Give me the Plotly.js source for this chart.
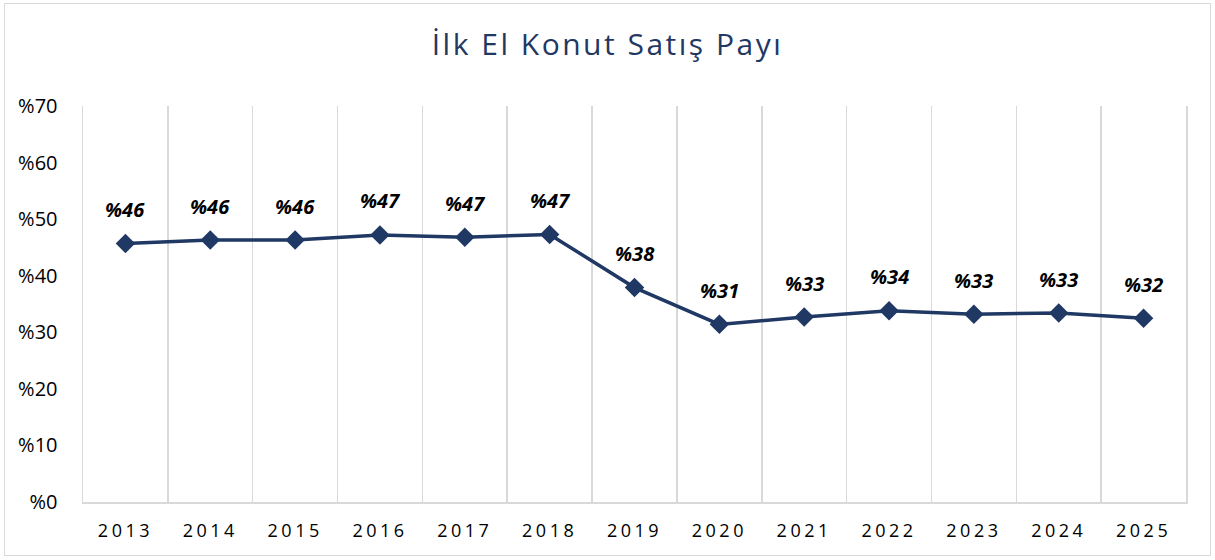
<!DOCTYPE html>
<html>
<head>
<meta charset="utf-8">
<script src="https://cdn.plot.ly/plotly-3.0.1.min.js"></script>
<style>
  html, body { margin: 0; padding: 0; background: #fff; }
  #wrap { position: relative; width: 1215px; height: 560px; }
  #chart { width: 1215px; height: 560px; }
  #frame { position: absolute; left: 4px; top: 3px; width: 1207px; height: 553px;
           border: 1.5px solid #d9d9d9; pointer-events: none; box-sizing: border-box; }
  .xtick text { letter-spacing: 3.5px; }
  .gtitle { letter-spacing: 2.5px; }
</style>
</head>
<body>
<div id="wrap">
  <div id="chart"></div>
  <div id="frame"></div>
</div>
<script>
const years = ["2013","2014","2015","2016","2017","2018","2019","2020","2021","2022","2023","2024","2025"];
const share = [45.7, 46.3, 46.3, 47.2, 46.8, 47.3, 37.9, 31.4, 32.7, 33.8, 33.2, 33.4, 32.5];
const labels = ["%46","%46","%46","%47","%47","%47","%38","%31","%33","%34","%33","%33","%32"];
const yTicks = [0, 10, 20, 30, 40, 50, 60, 70];

const lineColor = "#203864";
const fontFam = "Open Sans, Noto Sans, sans-serif";

const trace = {
  type: "scatter",
  mode: "lines+markers",
  x: years,
  y: share,
  line: { color: lineColor, width: 3.5 },
  marker: { symbol: "diamond", size: 15, color: lineColor },
  hoverinfo: "x+y",
  cliponaxis: false
};

const annotations = years.map((yr, i) => ({
  x: i, y: share[i], xref: "x", yref: "y",
  text: "<b><i>" + labels[i] + "</i></b>",
  showarrow: false, yshift: 34,
  font: { family: fontFam, size: 20, color: "#000" }
}));

const layout = {
  width: 1215, height: 560,
  margin: { l: 83, r: 29, t: 106, b: 58 },
  paper_bgcolor: "#fff", plot_bgcolor: "#fff",
  showlegend: false,
  title: {
    text: "İlk El Konut Satış Payı",
    x: 0.5, xanchor: "center", xref: "container",
    y: 0.92, yanchor: "middle", yref: "container",
    font: { family: fontFam, size: 30, color: "#1F3864" }
  },
  xaxis: {
    type: "category",
    categoryarray: years, categoryorder: "array",
    range: [-0.5, years.length - 0.5], autorange: false,
    tickson: "boundaries",
    showgrid: true, gridcolor: "#d9d9d9", gridwidth: 1.5,
    showline: true, linecolor: "#d9d9d9", linewidth: 1.5,
    ticks: "", ticklen: 0, tickangle: 0, ticklabelstandoff: 12,
    tickfont: { family: fontFam, size: 18, color: "#000" },
    fixedrange: true
  },
  yaxis: {
    range: [0, 70], autorange: false,
    tickvals: yTicks,
    ticktext: yTicks.map(v => "%" + v),
    showgrid: false, zeroline: false,
    showline: true, mirror: true, linecolor: "#d9d9d9", linewidth: 1.5,
    ticks: "", ticklabelstandoff: 20,
    tickfont: { family: fontFam, size: 20, color: "#000" },
    fixedrange: true
  },
  annotations: annotations
};

Plotly.newPlot("chart", [trace], layout, { displayModeBar: false, staticPlot: true });
</script>
</body>
</html>
